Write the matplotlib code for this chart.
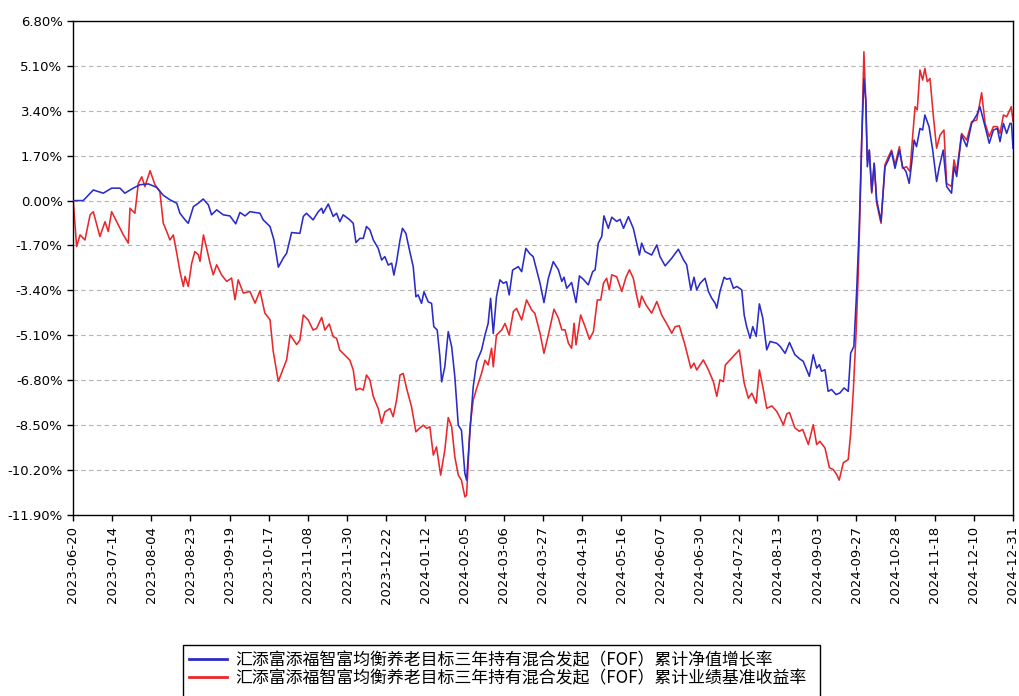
import matplotlib
matplotlib.use("Agg")
import matplotlib.pyplot as plt
from matplotlib.patches import Rectangle

plt.rcParams['font.family'] = ['Noto Sans CJK SC', 'DejaVu Sans']

# X tick labels (dates), placed every 16 trading days
date_labels = ["2023-06-20", "2023-07-14", "2023-08-04", "2023-08-23", "2023-09-19",
               "2023-10-17", "2023-11-08", "2023-11-30", "2023-12-22", "2024-01-12",
               "2024-02-05", "2024-03-06", "2024-03-27", "2024-04-19", "2024-05-16",
               "2024-06-07", "2024-06-30", "2024-07-22", "2024-08-13", "2024-09-03",
               "2024-09-27", "2024-10-28", "2024-11-18", "2024-12-10", "2024-12-31"]
tick_step = 16

y_ticks = [6.80, 5.10, 3.40, 1.70, 0.00, -1.70, -3.40, -5.10, -6.80, -8.50, -10.20, -11.90]

series_names = ["汇添富添福智富均衡养老目标三年持有混合发起（FOF）累计净值增长率",
                "汇添富添福智富均衡养老目标三年持有混合发起（FOF）累计业绩基准收益率"]

# Fund cumulative NAV growth (%), by trading day index
nav_day = [0, 4.2, 8.3, 12.4, 15.8, 19.2, 21.2, 24.6, 27.4, 30.8, 34.2, 36.9, 39.6, 42.4, 43.7,
           45.8, 47.1, 49.2, 51.2, 53.2, 55.3, 56.6, 58.7, 61.4, 64.1, 66.5, 68.2, 70.3, 72.3,
           74.3, 76.4, 77.7, 80.5, 82.1, 83.9, 85.9, 87.3, 89.3,
           92.7, 94.1, 95.4, 98.1, 100.2, 101.6, 102.2, 104.3, 106.3, 107.7, 109.0, 110.4, 113.1,
           114.5, 115.6, 117.2, 118.6, 119.9, 121.3, 122.7, 124.7, 126.1, 127.4, 128.8, 130.2,
           131.1, 132.2, 133.6, 134.6, 136.0, 137.6, 139.0, 140.1, 141.0, 142.4, 143.4, 145.1,
           146.5, 147.4, 148.8, 149.9, 150.6, 151.9, 153.3, 154.7, 156.0, 157.4, 158.7, 160.1,
           160.8, 162.2, 163.5, 164.9, 166.9, 168.3, 169.6, 170.6, 171.7, 173.0, 174.4, 175.8,
           177.1, 178.2, 179.6, 181.9, 183.3, 185.0, 186.7, 188.0, 189.4,
           190.8, 192.4, 194.2, 196.2, 198.3, 199.7, 200.6, 201.7, 203.7, 205.5, 206.9, 208.5,
           210.5, 212.3, 213.3, 214.6, 216.0, 216.9, 218.7, 220.1, 222.1, 223.5, 224.9, 226.9,
           228.9, 230.3, 231.4, 232.3, 233.7, 236.4, 238.5, 239.8, 241.9, 244.6, 247.3, 249.4,
           250.7, 252.4, 253.7, 254.8, 256.2, 258.2, 259.6, 260.9, 262.3, 263.0, 264.3, 266.0,
           267.1, 268.4, 269.8, 271.2, 273.2, 274.2, 275.2, 276.6, 277.7, 279.1, 280.4, 281.8,
           283.4, 284.8, 287.5, 288.9, 290.9, 292.7,
           294.9, 297.0, 298.3, 300.8, 302.4, 303.8, 304.9, 305.8, 307.2, 308.5, 309.9, 311.7,
           313.3, 315.0, 316.7, 317.7, 319.0, 320.1, 321.2, 322.2, 323.1, 323.9, 324.5, 325.3,
           326.3, 327.3, 328.3, 330.1, 331.7, 333.1, 334.4, 335.8, 337.6, 338.9, 340.3, 341.6,
           342.6, 343.6, 344.6, 346.0, 347.1, 348.0, 349.7, 351.2, 352.8, 353.9, 355.5, 356.9,
           358.9, 359.9, 361.0, 363.0, 365.1, 367.1, 369.2, 370.5, 372.6, 374.3, 376.0, 377.6,
           378.7, 380.1, 381.4, 382.8, 383.4, 384.0]
nav_pct = [0.0, 0.0, 0.4, 0.28, 0.47, 0.47, 0.28, 0.47, 0.6, 0.63, 0.5, 0.2, 0.03, -0.1, -0.48,
           -0.73, -0.86, -0.23, -0.1, 0.06, -0.16, -0.54, -0.35, -0.54, -0.58, -0.88, -0.45, -0.58, -0.42,
           -0.45, -0.48, -0.73, -0.98, -1.49, -2.52, -2.18, -1.99, -1.21,
           -1.24, -0.6, -0.48, -0.73, -0.42, -0.29, -0.48, -0.13, -0.6, -0.48, -0.8, -0.54, -0.73,
           -0.86, -1.59, -1.43, -1.43, -0.98, -1.11, -1.49, -1.81, -2.25, -2.12, -2.44, -2.37,
           -2.82, -2.31, -1.49, -1.05, -1.24, -1.93, -2.5, -3.64, -3.57, -3.89, -3.45, -3.83,
           -3.89, -4.77, -4.9, -5.91, -6.86, -6.29, -4.96, -5.53, -6.67, -8.5, -8.69, -10.33,
           -10.58, -8.69, -7.05, -6.1, -5.66, -5.09, -4.65, -3.7, -5.03, -3.64, -3.0, -3.13,
           -3.07, -3.57, -2.63, -2.5, -2.69, -1.81, -2.02, -2.12, -2.63,
           -3.13, -3.86, -2.94, -2.31, -2.62, -3.06, -2.9, -3.32, -3.1, -3.86, -2.85, -2.98,
           -3.19, -2.69, -2.62, -1.61, -1.36, -0.58, -1.05, -0.63, -0.79, -0.71, -1.05, -0.61,
           -1.05, -1.61, -2.06, -1.61, -1.93, -2.06, -1.68, -2.12, -2.47, -2.18, -1.84, -2.24,
           -2.43, -3.38, -2.9, -3.38, -3.13, -2.94, -3.44, -3.69, -3.88, -4.07, -3.44, -2.9,
           -2.98, -2.94, -3.32, -3.25, -3.38, -4.33, -4.77, -5.21, -4.77, -5.14, -3.91, -4.45,
           -5.65, -5.33, -5.4, -5.52, -5.78, -5.37,
           -5.83, -6.0, -6.08, -6.65, -5.83, -6.34, -6.21, -6.46, -6.4, -7.22, -7.15, -7.34,
           -7.28, -7.09, -7.22, -5.77, -5.52, -3.5, -0.98, 2.29, 4.6, 3.8, 1.28, 1.91,
           0.34, 1.41, 0.03, -0.79, 1.28, 1.54, 1.85, 1.22, 1.91, 1.28, 1.1, 0.65,
           1.41, 2.29, 2.04, 2.73, 2.67, 3.24, 2.8, 1.91, 0.72, 1.28, 1.91, 0.53,
           0.28, 1.28, 0.91, 2.48, 2.04, 2.92, 3.24, 3.55, 2.8, 2.17, 2.67, 2.73,
           2.23, 2.92, 2.54, 2.92, 2.92, 1.98]

# Benchmark cumulative return (%), by trading day index
bm_day = [0.1, 1.5, 2.9, 4.9, 7.0, 8.3, 11.0, 13.1, 14.4, 15.8, 18.5, 20.6, 22.6, 23.3, 25.3,
          26.7, 28.1, 29.4, 31.5, 33.5, 35.5, 36.9, 38.3, 39.6, 41.0, 42.4, 43.7, 45.1, 45.8,
          47.1, 48.5, 49.8, 51.2, 51.9, 53.3, 54.6, 56.0, 57.3, 58.7, 60.7, 62.8, 64.8, 66.2,
          67.5, 69.6, 72.3, 74.4, 76.4, 78.4, 80.5, 81.8, 83.9, 86.0, 87.3, 88.7, 91.4,
          92.7, 94.1, 96.1, 98.1, 99.5, 101.6, 102.9, 104.7, 106.3, 107.7, 109.0, 111.1, 113.1,
          114.5, 115.6, 117.2, 118.6, 119.9, 121.3, 122.7, 124.7, 126.1, 127.4, 129.5, 130.8,
          132.2, 133.6, 134.9, 136.3, 138.3, 140.1, 141.5, 143.1, 144.5, 145.8, 147.2, 148.5,
          150.2, 151.9, 153.3, 154.7, 156.0, 157.4, 158.7, 160.1, 160.8, 162.2, 163.5, 164.9,
          166.9, 168.3, 169.6, 171.0, 171.7, 173.0, 175.1, 176.5, 178.2, 179.9, 181.2, 183.3,
          185.3, 187.4, 188.7,
          190.8, 192.4, 194.2, 196.5, 198.3, 199.7, 201.0, 202.4, 203.7, 204.7, 205.5, 207.4,
          209.2, 211.0, 212.6, 214.2, 215.6, 216.7, 218.0, 219.1, 220.1, 222.1, 224.2, 225.9,
          227.3, 228.9, 230.3, 231.4, 232.3, 234.1, 236.4, 238.5, 240.5, 243.2, 244.6, 246.0,
          247.7, 250.0, 252.4, 253.7, 254.8, 257.5, 259.6, 261.6, 263.0, 264.3, 265.7, 266.5,
          269.1, 272.2, 274.2, 275.9, 277.3, 279.1, 280.4, 281.8, 283.4, 285.5, 287.5, 288.9,
          290.2, 291.6, 292.7,
          294.9, 296.7, 298.1, 300.4, 302.4, 303.8, 305.1, 307.2, 309.0, 310.6, 312.0, 313.0,
          314.7, 316.7, 317.7, 318.8, 319.9, 320.8, 321.8, 322.6, 323.1, 323.7, 324.5, 325.3,
          326.3, 327.3, 328.3, 330.1, 331.7, 333.1, 334.4, 335.8, 337.6, 338.9, 340.5, 341.9,
          343.0, 344.0, 344.9, 346.0, 347.1, 348.0, 349.0, 350.1, 351.5, 352.8, 354.2, 355.8,
          356.9, 358.9, 359.9, 361.0, 363.0, 365.1, 367.1, 369.2, 371.2, 372.6, 374.3, 376.0,
          377.6, 378.7, 380.1, 381.4, 383.3, 384.0]
bm_pct = [0.0, -1.74, -1.3, -1.49, -0.54, -0.42, -1.36, -0.8, -1.17, -0.42, -0.92, -1.3, -1.61, -0.29, -0.48,
          0.65, 0.9, 0.53, 1.13, 0.6, 0.34, -0.86, -1.17, -1.49, -1.3, -1.99, -2.68, -3.25, -2.87,
          -3.25, -2.37, -1.93, -2.05, -2.3, -1.3, -1.8, -2.37, -2.81, -2.43, -2.81, -3.06, -2.93, -3.75,
          -3.0, -3.5, -3.44, -3.88, -3.41, -4.26, -4.51, -5.7, -6.84, -6.33, -6.02, -5.08, -5.45,
          -5.28, -4.33, -4.52, -4.9, -4.84, -4.42, -4.9, -4.67, -5.15, -5.21, -5.66, -5.85, -6.04,
          -6.41, -7.17, -7.11, -7.17, -6.6, -6.79, -7.42, -7.87, -8.43, -8.0, -7.87, -8.18,
          -7.55, -6.6, -6.54, -7.11, -7.8, -8.75, -8.62, -8.5, -8.62, -8.56, -9.63, -9.32,
          -10.39, -9.44, -8.21, -8.56, -9.7, -10.39, -10.58, -11.21, -11.15, -8.56, -7.55, -7.11,
          -6.54, -6.04, -6.22, -5.59, -6.29, -5.09, -4.9, -4.65, -5.09, -4.2, -4.08, -4.52,
          -3.76, -4.14, -4.27,
          -5.02, -5.78, -5.08, -4.11, -4.45, -4.89, -4.89, -5.4, -5.59, -4.64, -5.46, -4.33,
          -4.77, -5.25, -4.96, -3.76, -3.76, -3.13, -2.94, -3.38, -2.81, -2.88, -3.44, -2.9,
          -2.62, -2.94, -3.61, -4.04, -3.61, -3.95, -4.26, -3.82, -4.33, -4.77, -5.02, -4.77,
          -4.74, -5.46, -6.34, -6.15, -6.41, -6.03, -6.41, -6.85, -7.41, -6.78, -6.85, -6.22,
          -5.96, -5.65, -6.91, -7.48, -7.29, -7.67, -6.41, -7.04, -7.86, -7.77, -7.98, -8.23,
          -8.49, -8.07, -8.02,
          -8.6, -8.73, -8.66, -9.23, -8.48, -9.23, -9.11, -9.36, -10.11, -10.18, -10.37, -10.58,
          -9.92, -9.8, -8.79, -7.15, -5.01, -2.75, 0.65, 3.8, 5.63, 4.18, 1.54, 1.91,
          0.28, 1.41, -0.1, -0.86, 1.35, 1.66, 1.91, 1.35, 2.04, 1.22, 1.28, 1.1,
          2.42, 3.55, 3.43, 4.94, 4.56, 5.0, 4.5, 4.62, 3.17, 1.98, 2.48, 2.67,
          0.65, 0.53, 1.54, 1.1, 2.54, 2.29, 2.98, 3.05, 4.08, 2.92, 2.42, 2.8,
          2.8, 2.54, 3.24, 3.17, 3.55, 3.0]

W, H = 1019, 696
fig = plt.figure(figsize=(W / 100, H / 100), dpi=100)
ax = fig.add_axes([0.0716, 0.26, 0.9225, 0.71])

ax.plot(nav_day, nav_pct, color='#2b2bc8', lw=1.15, label=series_names[0], zorder=3)
ax.plot(bm_day, bm_pct, color='#e8282c', lw=1.15, label=series_names[1], zorder=2)

n_ticks = len(date_labels)
ax.set_xlim(0, tick_step * (n_ticks - 1))
ax.set_xticks([i * tick_step for i in range(n_ticks)])
ax.set_xticklabels(date_labels, rotation=90, fontsize=9.5, family='DejaVu Sans')

ax.set_ylim(min(y_ticks), max(y_ticks))
ax.set_yticks(y_ticks)
ax.set_yticklabels([f"{v:.2f}%" for v in y_ticks], fontsize=9.5, family='DejaVu Sans')

ax.yaxis.grid(True, linestyle=(0, (4, 3)), color='#b4b4b4', lw=0.8)
ax.set_axisbelow(True)
ax.tick_params(axis='both', direction='out', length=4, width=1, colors='black')
ax.tick_params(axis='x', pad=4)
for s in ax.spines.values():
    s.set_color('black')
    s.set_linewidth(1.0)

# legend box (drawn separately so it can be wider than its text, as in the original)
fig.patches.append(Rectangle((183 / W, -0.02), (820 - 183) / W, 0.02 + (696 - 645) / H,
                             transform=fig.transFigure, fill=False, edgecolor='black', lw=1.0))
leg = fig.legend(loc='upper left', bbox_to_anchor=(186 / W, 1 - 648 / H),
                 fontsize=12.2, frameon=False, handlelength=2.2,
                 labelspacing=0.0, borderpad=0.2, handletextpad=0.5, borderaxespad=0)
for line in leg.get_lines():
    line.set_linewidth(2.0)

fig.savefig("out.png", dpi=100)
